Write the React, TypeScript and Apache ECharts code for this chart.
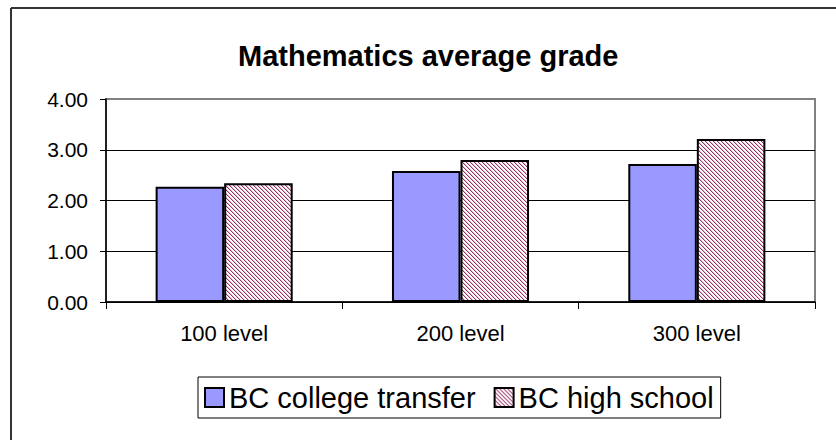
import React, { useEffect, useRef } from "react";
import * as echarts from "echarts";

const categories = ["100 level", "200 level", "300 level"];
const collegeTransfer = [2.27, 2.58, 2.72];
const highSchool = [2.34, 2.8, 3.21];
const seriesNames = ["BC college transfer", "BC high school"];
const yTicks = { min: 0, max: 4, interval: 1 };

const FONT = "'Liberation Sans', Arial, sans-serif";

function makeHatch(): string {
  const c = document.createElement("canvas");
  c.width = 4;
  c.height = 4;
  const ctx = c.getContext("2d")!;
  ctx.fillStyle = "#ffffff";
  ctx.fillRect(0, 0, 4, 4);
  for (let y = 0; y < 4; y++) {
    ctx.fillStyle = "#993366";
    ctx.fillRect(y % 4, y, 1, 1);
    ctx.fillStyle = "rgba(153,51,102,0.3)";
    ctx.fillRect((y + 1) % 4, y, 1, 1);
  }
  return c.toDataURL();
}

export default function App() {
  const ref = useRef<HTMLDivElement>(null);
  useEffect(() => {
    if (!ref.current) return;
    const chart = echarts.init(ref.current, undefined, { renderer: "svg" });
    const hatch = { image: makeHatch(), repeat: "repeat" };
    chart.setOption({
      animation: false,
      backgroundColor: "#ffffff",
      title: {
        text: "Mathematics average grade",
        left: 233,
        top: 36,
        textStyle: { fontFamily: FONT, fontSize: 29, fontWeight: "bold", color: "#000" },
      },
      graphic: [
        { type: "line", shape: { x1: 11, y1: 8, x2: 836, y2: 8 }, style: { stroke: "#333", lineWidth: 2 } },
        { type: "line", shape: { x1: 11, y1: 8, x2: 11, y2: 440 }, style: { stroke: "#333", lineWidth: 2 } },
      ],
      legend: {
        left: 198,
        top: 377,
        padding: [6, 7, 6, 6],
        itemGap: 18,
        itemWidth: 19,
        itemHeight: 19,
        borderColor: "#000",
        borderWidth: 1,
        icon: "rect",
        textStyle: { fontFamily: FONT, fontSize: 29, color: "#000" },
        data: seriesNames,
      },
      grid: {
        left: 106,
        right: 21,
        top: 99,
        bottom: 138,
        show: true,
        borderColor: "#808080",
        borderWidth: 2,
        containLabel: false,
      },
      xAxis: {
        type: "category",
        data: categories,
        axisLine: { lineStyle: { color: "#000", width: 1.5 } },
        axisTick: { show: true, length: 7, lineStyle: { color: "#000" } },
        axisLabel: { fontFamily: FONT, fontSize: 22, color: "#000", margin: 20 },
      },
      yAxis: {
        type: "value",
        min: yTicks.min,
        max: yTicks.max,
        interval: yTicks.interval,
        axisLine: { show: true, lineStyle: { color: "#000", width: 1.5 } },
        axisTick: { show: true, length: 6, lineStyle: { color: "#000" } },
        axisLabel: {
          fontFamily: FONT,
          fontSize: 21,
          color: "#000",
          margin: 18,
          formatter: (v: number) => v.toFixed(2),
        },
        splitLine: {
          show: true,
          lineStyle: { color: ["#000", "#000", "#000", "#000", "#808080"], width: 1 },
        },
      },
      series: [
        {
          name: seriesNames[0],
          type: "bar",
          data: collegeTransfer,
          barGap: "0%",
          barCategoryGap: "42%",
          itemStyle: { color: "#9999FF", borderColor: "#000", borderWidth: 2 },
        },
        {
          name: seriesNames[1],
          type: "bar",
          data: highSchool,
          itemStyle: { color: hatch, borderColor: "#000", borderWidth: 2 },
        },
      ],
    });
    return () => chart.dispose();
  }, []);
  return (
    <div
      ref={ref}
      style={{ position: "fixed", left: 0, top: 0, width: 836, height: 440 }}
    />
  );
}
